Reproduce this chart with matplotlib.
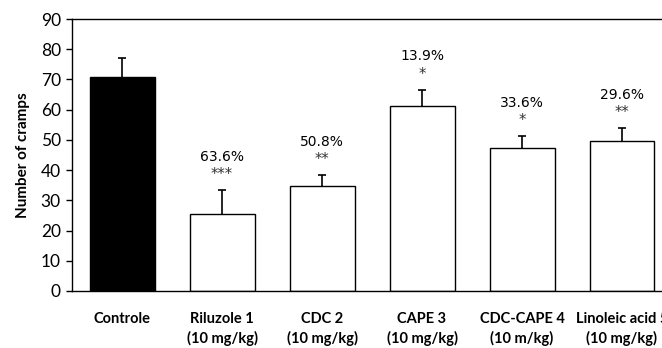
import matplotlib.pyplot as plt
import numpy as np

labels = ["Controle", "Riluzole 1\n(10 mg/kg)", "CDC 2\n(10 mg/kg)", "CAPE 3\n(10 mg/kg)",
          "CDC-CAPE 4\n(10 m/kg)", "Linoleic acid 5\n(10 mg/kg)"]
cramps = [70.9, 25.6, 34.9, 61.2, 47.2, 49.6]
errors = [6.3, 7.8, 3.4, 5.4, 4.1, 4.3]
reductions = ["", "63.6%", "50.8%", "13.9%", "33.6%", "29.6%"]
stars = ["", "***", "**", "*", "*", "**"]
colors = ["black", "white", "white", "white", "white", "white"]

fig = plt.figure(figsize=(6.62, 3.48), dpi=100)
ax = fig.add_axes([0.1088, 0.1638, 0.9063, 0.7816])

x = np.arange(len(labels))
ax.bar(x, cramps, width=0.65, color=colors, edgecolor="black", linewidth=1.0, zorder=2)

# upper error bars only
eb = ax.errorbar(x, cramps, yerr=[np.zeros(len(errors)), errors], fmt="none",
                 ecolor="black", elinewidth=1.2, capsize=3, capthick=1.2, zorder=3)
eb[1][0].set_visible(False)

for i in range(len(labels)):
    top = cramps[i] + errors[i]
    if stars[i]:
        ax.annotate(stars[i], (x[i], top), xytext=(0, 11), textcoords="offset points",
                    ha="center", va="center", fontsize=10.5, family="DejaVu Sans",
                    color="#333333")
        ax.annotate(reductions[i], (x[i], top), xytext=(0, 24), textcoords="offset points",
                    ha="center", va="center", fontsize=10, family="DejaVu Sans")

ax.set_xlim(-0.5, 5.5)
ax.set_ylim(0, 90)
ax.set_yticks(range(0, 91, 10))
ax.set_xticks(x)
ax.set_xticklabels(labels, fontsize=10.5, fontweight="bold", family="Lato", linespacing=1.4)
ax.tick_params(axis="x", length=0, pad=15)
ax.tick_params(axis="y", direction="out", length=4, width=1, labelsize=12.5, pad=4)
for t in ax.get_yticklabels():
    t.set_family("Lato")
ax.set_ylabel("Number of cramps", fontsize=11, fontweight="bold", family="Lato", labelpad=8)

ax.spines["right"].set_visible(False)
for s in ["left", "top", "bottom"]:
    ax.spines[s].set_linewidth(1.0)

fig.savefig("out.png", dpi=100)
